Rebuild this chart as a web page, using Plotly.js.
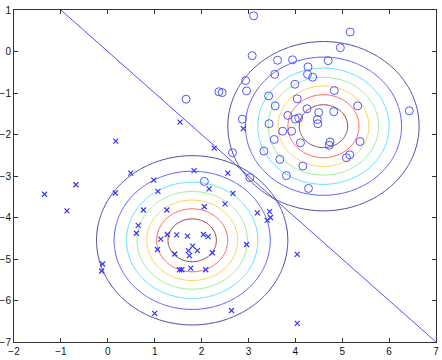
<!DOCTYPE html>
<html>
<head>
<meta charset="utf-8">
<script src="https://cdn.plot.ly/plotly-3.0.1.min.js"></script>
<style>html,body{margin:0;padding:0;background:#fff;}#chart{width:442px;height:360px;}</style>
</head>
<body>
<div id="chart"></div>
<script>
// Class 1 samples (circles)
var class1X = [3.11, 5.17, 4.96, 3.08, 3.62, 3.94, 4.70, 4.27, 3.56, 4.26, 4.37, 2.94, 3.99, 2.96, 4.83, 2.37, 2.44,
  3.43, 5.33, 3.57, 4.04, 4.25, 6.43, 4.50, 4.82, 2.87, 3.84, 4.07, 4.00, 4.47, 4.48, 3.44, 3.73, 3.92,
  3.55, 4.11, 4.74, 4.72, 5.38, 3.33, 2.66, 3.67, 5.16, 5.09, 4.16, 3.81, 3.03, 4.28, 2.06, 1.67];
var class1Y = [0.86, 0.47, 0.09, -0.10, -0.21, -0.20, -0.22, -0.37, -0.55, -0.55, -0.62, -0.70, -0.79, -0.95, -0.94, -0.97, -0.99,
  -1.07, -1.31, -1.31, -1.14, -1.38, -1.43, -1.47, -1.45, -1.63, -1.54, -1.60, -1.63, -1.64, -1.74, -1.74, -1.92, -1.92,
  -2.12, -2.20, -2.18, -2.26, -2.17, -2.40, -2.44, -2.60, -2.49, -2.56, -2.76, -2.99, -3.04, -3.30, -3.13, -1.15];
// Class 2 samples (crosses)
var class2X = [-1.35, -0.68, -0.87, 0.17, 1.54, 2.27, 2.89, 0.49, 0.16, 0.98, 1.07, 1.84, 2.16, 2.56, 2.67, 2.50,
  0.76, 1.26, 2.06, 3.19, 3.45, 3.47, 3.40, 0.65, 0.61, 1.13, 1.27, 1.47, 1.70, 2.04, 2.14,
  1.81, 1.72, 1.91, 1.74, 1.06, 1.43, 2.23, 2.96, 4.04, -0.11, -0.13, 1.53, 1.58, 1.77, 2.09, 1.00, 2.64, 4.04];
var class2Y = [-3.44, -3.21, -3.84, -2.16, -1.70, -2.33, -1.86, -2.93, -3.41, -3.10, -3.37, -2.87, -3.31, -2.93, -3.42, -3.67,
  -3.82, -3.82, -3.74, -3.89, -3.86, -4.00, -4.07, -4.19, -4.38, -4.52, -4.41, -4.42, -4.45, -4.41, -4.46,
  -4.69, -4.80, -4.80, -4.92, -4.77, -4.88, -4.85, -4.65, -4.89, -5.12, -5.29, -5.26, -5.26, -5.22, -5.26, -6.31, -6.24, -6.55];
// Gaussian class models (unit covariance)
var mean1 = [4.6, -1.8];
var mean2 = [1.8, -4.55];
var sigma = 1.0;
// Decision boundary endpoints
var boundaryX = [-1, 7];
var boundaryY = [1, -7];
// Contour levels as fraction of peak density
var levelStart = 0.125, levelEnd = 0.875, levelStep = 0.125;
var levelColors = ['#4a4a9c', '#5c5cff', '#5ae2ff', '#9cee9c', '#ffd250', '#ff6454', '#9a4848'];
var xTicks = [-2, -1, 0, 1, 2, 3, 4, 5, 6, 7];
var yTicks = [-7, -6, -5, -4, -3, -2, -1, 0, 1];

var gx = [], gy = [];
for (var i = 0; i <= 180; i++) gx.push(-2 + i * 0.05);
for (var j = 0; j <= 160; j++) gy.push(-7 + j * 0.05);
function densityGrid(m) {
  var z = [];
  for (var j = 0; j < gy.length; j++) {
    var row = [];
    for (var i = 0; i < gx.length; i++) {
      var dx = gx[i] - m[0], dy = gy[j] - m[1];
      row.push(Math.exp(-(dx * dx + dy * dy) / (2 * sigma * sigma)));
    }
    z.push(row);
  }
  return z;
}
var cscale = levelColors.map(function (c, k) { return [k / (levelColors.length - 1), c]; });
function contourTrace(m) {
  return {
    type: 'contour', x: gx, y: gy, z: densityGrid(m),
    autocontour: false,
    contours: { start: levelStart, end: levelEnd, size: levelStep, coloring: 'lines', showlabels: false },
    colorscale: cscale, showscale: false, line: { width: 1, smoothing: 1 },
    hoverinfo: 'skip'
  };
}
function minusLabel(v) { return v < 0 ? '\u2212' + Math.abs(v) : String(v); }
var data = [
  contourTrace(mean1),
  contourTrace(mean2),
  { type: 'scatter', mode: 'lines', x: boundaryX, y: boundaryY, line: { color: '#5050ff', width: 1 }, hoverinfo: 'skip' },
  { type: 'scatter', mode: 'markers', x: class1X, y: class1Y,
    marker: { symbol: 'circle-open', size: 8, color: '#5656ff', line: { width: 1, color: '#5656ff' } } },
  { type: 'scatter', mode: 'markers', x: class2X, y: class2Y,
    marker: { symbol: 'x-thin-open', size: 5, color: '#3434ff', line: { width: 1.2, color: '#3434ff' } } }
];
var axisCommon = {
  showgrid: false, zeroline: false, showline: true, linecolor: '#333', linewidth: 1,
  mirror: 'ticks', ticks: 'inside', ticklen: 4, tickcolor: '#333', tickwidth: 1,
  tickfont: { family: 'Liberation Sans, Arial, sans-serif', size: 10, color: '#111' },
  automargin: false, tickmode: 'array'
};
var layout = {
  width: 442, height: 360,
  margin: { l: 14, r: 6, t: 10, b: 18 },
  paper_bgcolor: '#fff', plot_bgcolor: '#fff',
  showlegend: false,
  xaxis: Object.assign({}, axisCommon, { range: [-2, 7], tickvals: xTicks, ticktext: xTicks.map(minusLabel) }),
  yaxis: Object.assign({}, axisCommon, { range: [-7, 1], tickvals: yTicks, ticktext: yTicks.map(minusLabel) })
};
Plotly.newPlot('chart', data, layout, { staticPlot: true, displayModeBar: false });
</script>
</body>
</html>
